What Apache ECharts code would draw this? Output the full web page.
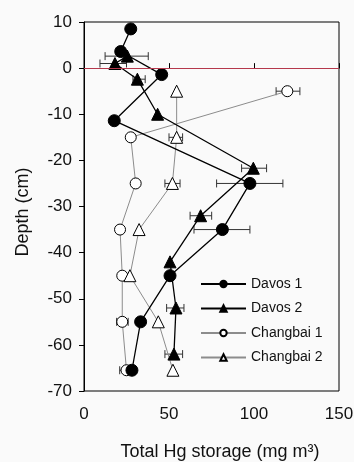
<!DOCTYPE html>
<html>
<head>
<meta charset="utf-8">
<script src="https://cdn.jsdelivr.net/npm/echarts@6/dist/echarts.min.js"></script>
<style>
html,body{margin:0;padding:0;background:#fafafa;}
#chart{width:354px;height:462px;}
</style>
</head>
<body>
<div id="chart"></div>
<script>
// Davos 1
const depthD1 = [8.5, 3.6, -1.4, -11.4, -25, -35, -45, -55, -65.5];
const valD1   = [27.5, 21.6, 45.7, 17.8, 97.6, 81.4, 50.6, 33.3, 28.2];
const errD1   = [null, null, null, null, [78, 117], [64.7, 97.6], null, null, null];
// Davos 2
const depthD2 = [2.6, 1.0, -2.4, -10, -21.7, -32, -42, -52, -62];
const valD2   = [25.5, 18.2, 31.4, 43.3, 99.6, 68.6, 50.6, 54.1, 52.9];
const errD2   = [[12.4, 37.8], [9.4, 25], [28.8, 36], null, [92.7, 107.4], [62.4, 75.1], null, [48.6, 58.8], [47.6, 58]];
// Changbai 1
const depthC1 = [-5, -15, -25, -35, -45, -55, -65.5];
const valC1   = [119.6, 27.5, 30.4, 21.2, 22.5, 22.5, 25];
const errC1   = [[113, 127], null, null, null, null, [19.2, 26], [21, 29]];
// Changbai 2
const depthC2 = [-5, -15, -25, -35, -45, -55, -65.5];
const valC2   = [54.5, 54.5, 52, 32.4, 27, 43.7, 52.3];
const errC2   = [null, [50, 58], [47.6, 56.5], null, null, null, null];

const seriesNames = ['Davos 1', 'Davos 2', 'Changbai 1', 'Changbai 2'];
const xTicks = [0, 50, 100, 150];
const yTicks = [-70, 10];

function pts(vals, depths) { return vals.map((v, i) => [v, depths[i]]); }
function errs(list, depths) {
  const out = [];
  list.forEach((e, i) => { if (e) out.push([e[0], e[1], depths[i]]); });
  return out;
}
const allErr = [].concat(errs(errD1, depthD1), errs(errD2, depthD2), errs(errC1, depthC1), errs(errC2, depthC2));

const chart = echarts.init(document.getElementById('chart'));
const font = 'Liberation Sans, Arial, sans-serif';

function lineSeries(name, data, symbol, size, lineColor, fill, z, lw) {
  return {
    name: name, type: 'line', data: data, symbol: symbol, symbolSize: size,
    lineStyle: { color: lineColor, width: lw },
    itemStyle: { color: fill, borderColor: '#000', borderWidth: 1 },
    emphasis: { disabled: true }, animation: false, z: z
  };
}

chart.setOption({
  backgroundColor: '#fafafa',
  animation: false,
  grid: { left: 84, right: 15, top: 22, bottom: 71, containLabel: false, outerBoundsMode: 'none',
          show: true, borderColor: '#000', borderWidth: 1, backgroundColor: 'transparent' },
  xAxis: {
    type: 'value', min: xTicks[0], max: xTicks[xTicks.length - 1], interval: 50,
    name: 'Total Hg storage (mg m³)', nameLocation: 'middle', nameGap: 52,
    nameTextStyle: { fontFamily: font, fontSize: 18, color: '#111', padding: [0, 0, 0, 17] },
    axisLine: { lineStyle: { color: '#000', width: 1 } },
    axisTick: { inside: true, length: 5, lineStyle: { color: '#000' } },
    axisLabel: { fontFamily: font, fontSize: 17, color: '#111', margin: 15 },
    splitLine: { show: false }
  },
  yAxis: {
    type: 'value', min: yTicks[0], max: yTicks[1], interval: 10,
    name: 'Depth (cm)', nameLocation: 'middle', nameGap: 52, nameRotate: 90,
    nameTextStyle: { fontFamily: font, fontSize: 18, color: '#111', padding: [0, 11, 0, 0] },
    axisLine: { lineStyle: { color: '#000', width: 1 } },
    axisTick: { inside: false, length: 5, lineStyle: { color: '#000' } },
    axisLabel: { fontFamily: font, fontSize: 17, color: '#111', margin: 12 },
    splitLine: { show: false }
  },
  legend: {
    orient: 'vertical', left: 195, top: 272, itemWidth: 45, itemHeight: 8, itemGap: 10.5,
    data: seriesNames,
    textStyle: { fontFamily: font, fontSize: 14, color: '#111' },
    selectedMode: false
  },
  series: [
    {
      type: 'custom', name: 'err', silent: true, z: 1,
      data: allErr,
      renderItem: function (params, api) {
        const lo = api.coord([api.value(0), api.value(2)]);
        const hi = api.coord([api.value(1), api.value(2)]);
        const h = 4;
        const st = { stroke: '#333', lineWidth: 1 };
        return { type: 'group', children: [
          { type: 'line', shape: { x1: lo[0], y1: lo[1], x2: hi[0], y2: hi[1] }, style: st },
          { type: 'line', shape: { x1: lo[0], y1: lo[1] - h, x2: lo[0], y2: lo[1] + h }, style: st },
          { type: 'line', shape: { x1: hi[0], y1: hi[1] - h, x2: hi[0], y2: hi[1] + h }, style: st }
        ]};
      }
    },
    lineSeries('Changbai 1', pts(valC1, depthC1), 'circle', 11, '#8c8c8c', '#fff', 2, 1),
    lineSeries('Changbai 2', pts(valC2, depthC2), 'triangle', 12, '#8c8c8c', '#fff', 2, 1),
    Object.assign(lineSeries('Davos 1', pts(valD1, depthD1), 'circle', 12, '#000', '#000', 3, 1.3), {
      markLine: {
        silent: true, symbol: ['none', 'none'], label: { show: false },
        lineStyle: { color: '#b5384c', width: 1, type: 'solid' },
        data: [{ yAxis: 0 }]
      }
    }),
    lineSeries('Davos 2', pts(valD2, depthD2), 'triangle', 12, '#000', '#000', 3, 1.3)
  ]
});
</script>
</body>
</html>
